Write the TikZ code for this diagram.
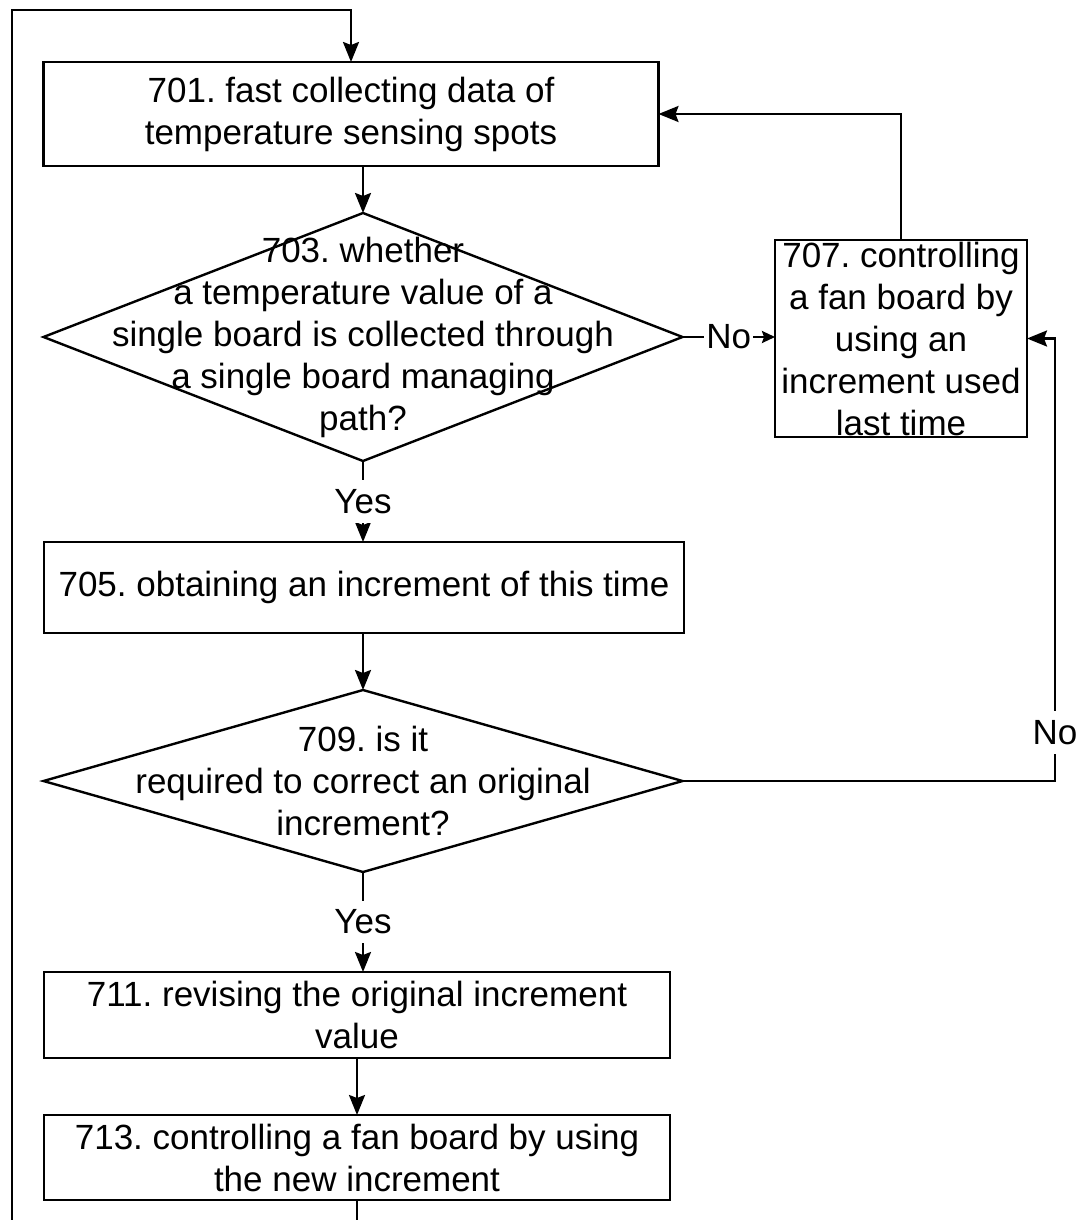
\documentclass[tikz,border=0pt]{standalone}
\usepackage{fontspec}
\setmainfont{Liberation Sans}
\frenchspacing
\usetikzlibrary{shapes.geometric,arrows.meta}

\tikzset{
	bigfont/.style={font=\fontsize{35}{42}\selectfont},
	process/.style={draw, rectangle, line width=2.4pt, inner sep=1pt, outer sep=0pt, align=center, bigfont},
	decision/.style={draw, diamond, line width=2.4pt, inner sep=0pt, outer sep=0pt},
	cond/.style={align=center, bigfont},
	branch/.style={fill=white, inner xsep=2pt, inner ysep=9pt, bigfont},
	flow/.style={line width=2.4pt, -{Stealth[length=20pt, width=16pt, inset=3pt]}},
	shortflow/.style={line width=2.4pt, -{Stealth[length=13pt, width=12pt, inset=2pt]}}
}

\begin{document}
\begin{tikzpicture}[x=1pt, y=-1pt]
		\useasboundingbox (0,0) rectangle (1081,1220);

		% Define nodes
		\node[process, minimum width=615pt, minimum height=104pt] (b701) at (351,114)
			{701. fast collecting data of\\temperature sensing spots};
		\node[decision, minimum width=639pt, minimum height=248pt,
			label={[cond]center:703. whether\\a temperature value of a\\single board is collected through\\a single board managing\\path?}] (d703) at (363,337) {};
		\node[process, minimum width=252pt, minimum height=197pt] (b707) at (901,338.5)
			{707. controlling\\a fan board by\\using an\\increment used\\last time};
		\node[process, minimum width=640pt, minimum height=91pt] (b705) at (364,587.5)
			{705. obtaining an increment of this time};
		\node[decision, minimum width=639pt, minimum height=182pt,
			label={[cond]center:709. is it\\required to correct an original\\increment?}] (d709) at (363,781) {};
		\node[process, minimum width=626pt, minimum height=86pt] (b711) at (357,1015)
			{711. revising the original increment\\value};
		\node[process, minimum width=626pt, minimum height=85pt] (b713) at (357,1157.5)
			{713. controlling a fan board by using\\the new increment};
		\coordinate (loopend) at (357,1220);
		\coordinate (loopstart) at (12,1220);

		% Connect the nodes
		\draw[flow] (loopstart) |- ([yshift=52pt]b701.north) -- (b701.north);
		\draw[flow] (b701.south -| d703.north) -- (d703.north);
		\draw[shortflow] (d703.east) -- node[branch, inner ysep=2pt] {No} (b707.west |- d703.east);
		\draw[flow] (b707.north) |- (b701.east);
		\draw[flow] (d703.south) -- node[branch] {Yes} (b705.north -| d703.south);
		\draw[flow] (b705.south -| d709.north) -- (d709.north);
		\draw[flow] (d709.east) -| node[branch, pos=0.555] {No} ([xshift=28pt]b707.east) -- (b707.east);
		\draw[flow] (d709.south) -- node[branch] {Yes} (b711.north -| d709.south);
		\draw[flow] (b711.south) -- (b713.north);
		\draw[line width=2.4pt] (b713.south) -- (loopend);
	\end{tikzpicture}
\end{document}
